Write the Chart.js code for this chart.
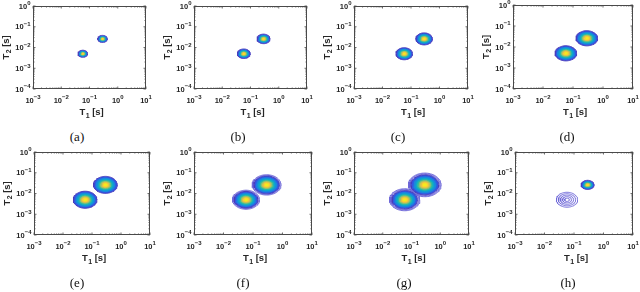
<!DOCTYPE html>
<html>
<head>
<meta charset="utf-8">
<script src="https://cdn.jsdelivr.net/npm/chart.js@4.4.1/dist/chart.umd.min.js"></script>
<style>
  html, body { margin: 0; padding: 0; background: #fff; }
  body { position: relative; width: 640px; height: 292px; overflow: hidden; }
  canvas { position: absolute; }
  .cap { position: absolute; font-family: "Liberation Serif", "DejaVu Serif", serif; font-size: 13px; color: #111; transform: translate(-50%, -50%); white-space: nowrap; }
</style>
</head>
<body>
<script>
/* T1-T2 maps: two peaks, eight cases (a)-(h) */
const panelLabels = ['(a)', '(b)', '(c)', '(d)', '(e)', '(f)', '(g)', '(h)'];
const xTickValues = [1e-3, 1e-2, 1e-1, 1, 10];
const xTickExp = ['−3', '−2', '−1', '0', '1'];
const yTickValues = [1e-4, 1e-3, 1e-2, 1e-1, 1];
const yTickExp = ['−4', '−3', '−2', '−1', '0'];
const xTitle = ['T', '1', ' [s]'];
const yTitle = ['T', '2', ' [s]'];

// peak centres [s]
const peakT1 = [0.058, 0.29];
const peakT2 = [0.005, 0.026];
// filled extent of each peak, in decades (0 = not filled)
const fillRadius1 = [0.17, 0.23, 0.29, 0.36, 0.41, 0.40, 0.44, 0];
const fillRadius2 = [0.17, 0.23, 0.29, 0.36, 0.41, 0.43, 0.48, 0.22];
// open contour rings, in decades
const ringRadius1 = [[], [], [], [], [], [0.43, 0.46], [0.47, 0.50, 0.53], [0.36, 0.29, 0.22, 0.15, 0.08]];
const ringRadius2 = [[], [], [], [], [], [0.46, 0.49], [0.51, 0.54, 0.57], []];

// ---- layout / style ----
const plotBoxes = [
  [33, 6, 146, 89], [194, 6, 307, 89], [354, 6, 468, 89], [513, 5, 633, 89],
  [34, 152, 150, 235], [194, 152, 312, 235], [354, 152, 469, 235], [515, 152, 633, 235],
];
const capX = [77, 238, 398, 567, 77, 243, 404, 568];
const capY = [137, 137, 137, 137, 283, 283, 283, 283];
const YW = 40, XH = 32, PAD_T = 12, PAD_R = 20;
const FONT = '"Liberation Sans", Arial, sans-serif';
const INK = '#262626';
const EDGE = '#4a3cbc';
const RING = '#6d66d8';
const LEVEL_FRAC = [1.00, 0.84, 0.70, 0.58, 0.47, 0.37, 0.27, 0.17];
const LEVEL_COLOR = ['#3158e2', '#1a86de', '#0ba8cc', '#2fba9f', '#86c274', '#d3c04f', '#fbcc35', '#f4eb1d'];

function ellipse(t1, t2, r) {
  const pts = [];
  const lx = Math.log10(t1), ly = Math.log10(t2);
  for (let i = 0; i <= 72; i++) {
    const a = i / 72 * 2 * Math.PI;
    pts.push({ x: Math.pow(10, lx + r * Math.cos(a)), y: Math.pow(10, ly + r * Math.sin(a)) });
  }
  return pts;
}

function buildSets(p) {
  const sets = [];
  const blobs = [
    { t1: peakT1[0], t2: peakT2[0], fill: fillRadius1[p], rings: ringRadius1[p] },
    { t1: peakT1[1], t2: peakT2[1], fill: fillRadius2[p], rings: ringRadius2[p] },
  ];
  blobs.forEach((b) => b.rings.forEach((r) => sets.push({
    data: ellipse(b.t1, b.t2, r), borderColor: RING, borderWidth: 0.9, fill: false,
  })));
  blobs.forEach((b) => {
    if (!b.fill) return;
    LEVEL_FRAC.forEach((f, k) => sets.push({
      data: ellipse(b.t1, b.t2, b.fill * f),
      backgroundColor: LEVEL_COLOR[k],
      borderColor: k === 0 ? EDGE : LEVEL_COLOR[k],
      borderWidth: k === 0 ? 1 : 0,
      fill: 'shape',
    }));
  });
  // first pushed = drawn first (bottom)
  sets.forEach((s, i) => { s.order = -i; s.pointRadius = 0; s.tension = 0; });
  return sets;
}

// "10" with a raised exponent, like the MATLAB tick labels
function powLabel(ctx, exp, x, y, align) {
  ctx.font = 'bold 7.5px ' + FONT;
  const wb = ctx.measureText('10').width;
  ctx.font = 'bold 6px ' + FONT;
  const we = ctx.measureText(exp).width;
  const x0 = align === 'right' ? x - wb - we : x - (wb + we) / 2;
  ctx.font = 'bold 7.5px ' + FONT;
  ctx.fillText('10', x0, y);
  ctx.font = 'bold 6px ' + FONT;
  ctx.fillText(exp, x0 + wb, y - 3.4);
}

// "T" + lowered index + " [s]", centred on x
function subTitle(ctx, parts, x, y) {
  ctx.font = 'bold 9.5px ' + FONT;
  const w0 = ctx.measureText(parts[0]).width, w2 = ctx.measureText(parts[2]).width;
  ctx.font = 'bold 7px ' + FONT;
  const w1 = ctx.measureText(parts[1]).width;
  let x0 = x - (w0 + w1 + w2) / 2;
  ctx.font = 'bold 9.5px ' + FONT;
  ctx.fillText(parts[0], x0, y);
  ctx.font = 'bold 7px ' + FONT;
  ctx.fillText(parts[1], x0 + w0 + 0.3, y + 2.6);
  ctx.font = 'bold 9.5px ' + FONT;
  ctx.fillText(parts[2], x0 + w0 + w1 + 0.3, y);
}

const framePlugin = {
  id: 'frame',
  beforeDatasetsDraw(chart) {
    const { ctx, chartArea: a } = chart;
    const sx = chart.scales.x, sy = chart.scales.y;
    ctx.save();
    ctx.strokeStyle = '#4a4a4a';
    ctx.lineWidth = 1;
    ctx.strokeRect(a.left + 0.5, a.top + 0.5, a.right - a.left - 1, a.bottom - a.top - 1);
    ctx.lineWidth = 0.8;
    ctx.beginPath();
    for (let e = -3; e <= 1; e++) {
      for (let m = 1; m <= 9; m++) {
        const v = m * Math.pow(10, e);
        if (v > 10.0001) break;
        const px = sx.getPixelForValue(v), len = m === 1 ? 2.5 : 1.5;
        ctx.moveTo(px, a.bottom); ctx.lineTo(px, a.bottom - len);
        ctx.moveTo(px, a.top); ctx.lineTo(px, a.top + len);
      }
    }
    for (let e = -4; e <= 0; e++) {
      for (let m = 1; m <= 9; m++) {
        const v = m * Math.pow(10, e);
        if (v > 1.0001) break;
        const py = sy.getPixelForValue(v), len = m === 1 ? 2.5 : 1.5;
        ctx.moveTo(a.left, py); ctx.lineTo(a.left + len, py);
        ctx.moveTo(a.right, py); ctx.lineTo(a.right - len, py);
      }
    }
    ctx.stroke();
    // tick labels and axis titles
    ctx.fillStyle = INK;
    ctx.textAlign = 'left';
    ctx.textBaseline = 'alphabetic';
    xTickValues.forEach((v, i) => powLabel(ctx, xTickExp[i], sx.getPixelForValue(v), a.bottom + 13.5, 'center'));
    yTickValues.forEach((v, i) => powLabel(ctx, yTickExp[i], a.left - 2.5, sy.getPixelForValue(v) + 2.7, 'right'));
    subTitle(ctx, xTitle, (a.left + a.right) / 2 + 2, a.bottom + 26);
    ctx.save();
    ctx.translate(a.left - 24.5, (a.top + a.bottom) / 2);
    ctx.rotate(-Math.PI / 2);
    subTitle(ctx, yTitle, 0, 0);
    ctx.restore();
    ctx.restore();
  },
};

plotBoxes.forEach(([L, T, R, B], p) => {
  const cv = document.createElement('canvas');
  cv.width = (R - L) + YW + PAD_R;
  cv.height = (B - T) + PAD_T + XH;
  cv.style.left = (L - YW) + 'px';
  cv.style.top = (T - PAD_T) + 'px';
  document.body.appendChild(cv);

  new Chart(cv.getContext('2d'), {
    type: 'line',
    data: { datasets: buildSets(p) },
    options: {
      responsive: false, animation: false, events: [],
      layout: { padding: { left: 0, top: PAD_T, right: PAD_R, bottom: 0 } },
      plugins: { legend: { display: false }, tooltip: { enabled: false } },
      scales: {
        x: {
          type: 'logarithmic', min: 1e-3, max: 10,
          afterBuildTicks: (s) => { s.ticks = xTickValues.map((v) => ({ value: v })); },
          afterFit: (s) => { s.height = XH; },
          grid: { display: false, drawTicks: false }, border: { display: false },
          ticks: { display: false },
        },
        y: {
          type: 'logarithmic', min: 1e-4, max: 1,
          afterBuildTicks: (s) => { s.ticks = yTickValues.map((v) => ({ value: v })); },
          afterFit: (s) => { s.width = YW; },
          grid: { display: false, drawTicks: false }, border: { display: false },
          ticks: { display: false },
        },
      },
    },
    plugins: [framePlugin],
  });

  const cap = document.createElement('div');
  cap.className = 'cap';
  cap.textContent = panelLabels[p];
  cap.style.left = capX[p] + 'px';
  cap.style.top = capY[p] + 'px';
  document.body.appendChild(cap);
});
</script>
</body>
</html>
